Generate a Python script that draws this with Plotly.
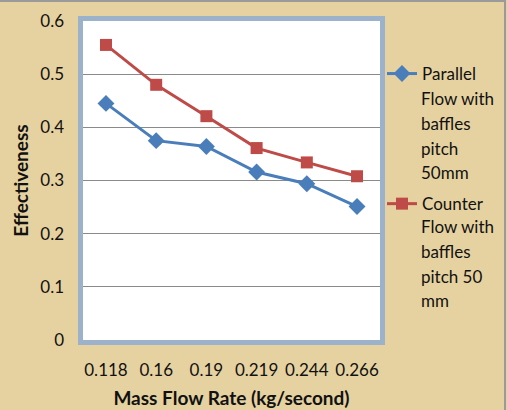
import plotly.graph_objects as go

# ---- data ----
mass_flow = ["0.118", "0.16", "0.19", "0.219", "0.244", "0.266"]
parallel = [0.445, 0.375, 0.364, 0.316, 0.294, 0.251]
counter = [0.555, 0.480, 0.421, 0.361, 0.334, 0.308]
parallel_lines = ["Parallel", "Flow with", "baffles", "pitch", "50mm"]
counter_lines = ["Counter", "Flow with", "baffles", "pitch 50", "mm"]
y_ticks = [0, 0.1, 0.2, 0.3, 0.4, 0.5, 0.6]

W, H = 507, 410
L, R, T, B = 83, 127, 21, 70
PW, PH = W - L - R, H - T - B

FONT = "Lato"
BLUE = "#4a7ebb"
RED = "#be4b48"
BG = "#e6d1a0"

fig = go.Figure()
fig.add_trace(go.Scatter(
    x=mass_flow, y=parallel, mode="lines+markers", name=parallel_lines[0],
    legendgroup="p",
    line=dict(color=BLUE, width=3),
    marker=dict(symbol="diamond", size=13, color=BLUE),
))
fig.add_trace(go.Scatter(
    x=mass_flow, y=counter, mode="lines+markers", name=counter_lines[0],
    legendgroup="c",
    line=dict(color=RED, width=3),
    marker=dict(symbol="square", size=12, color=RED),
))

def px_x(p):
    return (p - L) / PW

def px_y(p):
    return (H - B - p) / PH

annotations = []
text_x = 419
for i, t in enumerate(parallel_lines[1:], start=1):
    annotations.append(dict(x=px_x(text_x), y=px_y(74 + 24.7 * i), xref="paper", yref="paper",
                            text=t, showarrow=False, xanchor="left", yanchor="middle",
                            font=dict(family=FONT, size=17, color="#111")))
for i, t in enumerate(counter_lines[1:], start=1):
    annotations.append(dict(x=px_x(text_x), y=px_y(202 + 24.7 * i), xref="paper", yref="paper",
                            text=t, showarrow=False, xanchor="left", yanchor="middle",
                            font=dict(family=FONT, size=17, color="#111")))

shapes = [
    # plot-area frame
    dict(type="rect", xref="paper", yref="paper",
         x0=px_x(L - 2.5), x1=px_x(L + PW + 2.5), y0=px_y(H - B + 2.5), y1=px_y(T - 2.5),
         line=dict(color="#9cb2cb", width=5), layer="above"),
    # outer border
    dict(type="rect", xref="paper", yref="paper",
         x0=px_x(-5), x1=px_x(W - 2), y0=px_y(H + 5), y1=px_y(1),
         line=dict(color="#9a9a9a", width=2)),
]

fig.update_layout(
    width=W, height=H,
    margin=dict(l=L, r=R, t=T, b=B),
    paper_bgcolor=BG,
    plot_bgcolor="white",
    font=dict(family=FONT, size=17, color="#111"),
    showlegend=True,
    legend=dict(x=px_x(382), xanchor="left", y=px_y(56), yanchor="top",
                bgcolor="rgba(0,0,0,0)", font=dict(family=FONT, size=17, color="#111"),
                tracegroupgap=105, valign="top", itemwidth=30),
    annotations=annotations,
    shapes=shapes,
    xaxis=dict(type="category", showgrid=False, zeroline=False, showline=False,
               ticks="", ticklabelstandoff=18, automargin=False,
               tickfont=dict(family=FONT, size=17, color="#111"),
               title=dict(text="<b>Mass Flow Rate (kg/second)</b>", standoff=12,
                          font=dict(family=FONT, size=19, color="#111"))),
    yaxis=dict(range=[0, 0.6], tickvals=y_ticks, showgrid=True, gridcolor="#8a8a8a",
               gridwidth=1, zeroline=False, showline=False, ticks="",
               ticklabelstandoff=18, automargin=False,
               tickfont=dict(family=FONT, size=17, color="#111"),
               title=dict(text="<b>Effectiveness</b>", standoff=6,
                          font=dict(family=FONT, size=19, color="#111"))),
)

fig.write_html("out.html")
